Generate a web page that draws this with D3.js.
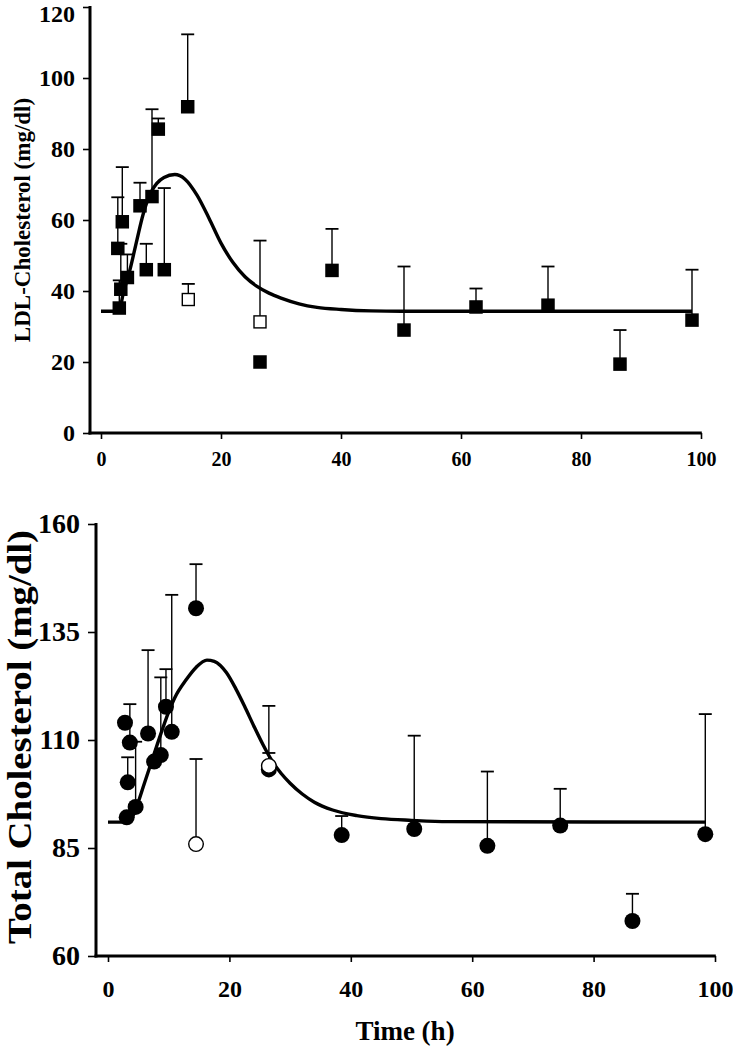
<!DOCTYPE html>
<html><head><meta charset="utf-8">
<script src="https://cdn.jsdelivr.net/npm/d3@7"></script>
<style>body{margin:0;background:#fff}svg{display:block}</style>
</head><body><svg id="c" width="733" height="1050"></svg>
<script>
// ---------- LDL panel data ----------
const ldlFilledT   = [3.05, 3.3, 4.4, 2.8, 3.55, 6.5, 8.5, 7.55, 10.55, 9.55, 14.45, 26.5, 38.5, 50.5, 62.5, 74.5, 86.5, 98.5];
const ldlFilledV   = [35.2, 40.5, 43.8, 52, 59.5, 64, 66.6, 46, 46, 85.6, 91.9, 20, 45.8, 29, 35.5, 36, 19.4, 31.8];
const ldlFilledErr = [43, 53.3, 50.3, 66.4, 74.9, 70.5, 91.2, 53.3, 69, 88.6, 112.3, null, 57.5, 46.9, 40.7, 46.9, 29, 46];
const ldlOpenT   = [14.55, 26.5];
const ldlOpenV   = [37.6, 31.3];
const ldlOpenErr = [42, 54.2];
const ldlCurveT = [0, 3, 3.7, 4.8, 6, 7, 8.4, 9.3, 10.5, 12.3, 14, 16, 18, 20, 22, 24, 26, 28, 30, 33, 36, 40, 45, 50, 98.5];
const ldlCurveV = [34.3, 34.3, 39.3, 45.8, 54.5, 61.5, 68, 70.3, 72, 72.8, 71.5, 67, 60.5, 53.5, 48, 44, 41.3, 39.4, 38, 36.4, 35.4, 34.8, 34.4, 34.3, 34.3];
const ldlYTicks = [0, 20, 40, 60, 80, 100, 120];
const xTicks = [0, 20, 40, 60, 80, 100];

// ---------- Total cholesterol panel data ----------
const tcFilledT   = [2.8, 3.6, 3.25, 3.08, 4.55, 6.6, 7.6, 8.7, 9.55, 10.5, 14.5, 26.5, 38.5, 50.45, 62.5, 74.5, 86.4, 98.4];
const tcFilledV   = [114, 109.4, 100.2, 92.1, 94.5, 111.5, 105, 106.5, 117.7, 111.9, 140.5, 103.2, 88, 89.4, 85.5, 90.2, 68.1, 88.2];
const tcFilledErr = [null, 118.3, 106, null, 109.6, 130.8, null, 124.5, 126.4, 143.6, 150.7, 107, 92.4, 111, 102.7, 98.7, 74.4, 116];
const tcOpenT   = [14.5, 26.5];
const tcOpenV   = [85.9, 104];
const tcOpenErr = [105.6, 117.9];
const tcCurveT = [0, 3.5, 4.5, 6, 8, 10, 11, 12.9, 14.5, 16.3, 17.5, 19.5, 21, 22.5, 24, 25.5, 27, 28.5, 30, 32, 34, 37, 41, 45, 50, 56, 98.5];
const tcCurveV = [91, 91, 93.8, 100, 108.5, 116.5, 119.8, 124, 126.8, 128.5, 128.2, 125.6, 122, 117.8, 113.3, 109, 105.2, 102.3, 100, 97.5, 95.6, 93.8, 92.5, 91.8, 91.4, 91.1, 91];
const tcYTicks = [60, 85, 110, 135, 160];

const svg = d3.select("#c");
const serif = "'Liberation Serif','Times New Roman',serif";

function panel(o) {
  const x = d3.scaleLinear().domain([0, 100]).range([o.x0, o.x1]);
  const y = d3.scaleLinear().domain(o.yDomain).range([o.y0, o.y1]);
  const g = svg.append("g");

  // axes
  const ya = g.append("g").attr("transform", `translate(${o.ax},0)`)
    .call(d3.axisLeft(y).tickValues(o.yTicks).tickSize(o.ytick).tickPadding(o.ypad).tickFormat(d3.format("d")));
  ya.select(".domain").attr("stroke-width", 3).attr("d", `M0,${o.y1 - 1}V${o.y0 + 1.5}`);
  ya.selectAll(".tick line").attr("stroke-width", 1.6);
  ya.selectAll("text").style("font-family", serif).style("font-weight", "bold").style("font-size", o.yfs + "px").attr("fill", "#000");
  if (o.topNudge) ya.selectAll(".tick").filter(d => d === o.yDomain[1]).select("text").attr("y", o.topNudge);

  const xa = g.append("g").attr("transform", `translate(0,${o.y0})`)
    .call(d3.axisBottom(x).tickValues(xTicks).tickSize(o.xtick).tickPadding(o.xpad).tickFormat(d3.format("d")));
  xa.select(".domain").attr("stroke-width", 3).attr("d", `M${o.ax - 1.5},0H${o.x1 + 0.8}`);
  xa.selectAll(".tick line").attr("stroke-width", 1.6);
  xa.selectAll("text").style("font-family", serif).style("font-weight", "bold").style("font-size", o.xfs + "px").attr("fill", "#000");

  // y title
  const tt = g.append("text").attr("transform", `translate(${o.titleX},${o.titleY}) rotate(-90)`)
    .attr("text-anchor", "middle").style("font-family", serif).style("font-weight", "bold")
    .style("font-size", o.tfs + "px").text(o.title);
  if (o.titleLen) tt.attr("textLength", o.titleLen).attr("lengthAdjust", "spacingAndGlyphs");

  const pts = (T, V, E, open) => T.map((t, i) => ({ t, v: V[i], e: E[i], open }));
  const all = pts(o.fT, o.fV, o.fE, false).concat(pts(o.oT, o.oV, o.oE, true));

  // error bars
  const eb = g.append("g").attr("stroke", "#000").attr("stroke-width", 1.4);
  all.filter(d => d.e != null).forEach(d => {
    eb.append("line").attr("x1", x(d.t)).attr("x2", x(d.t)).attr("y1", y(d.v)).attr("y2", y(d.e));
    eb.append("line").attr("x1", x(d.t) - 6.5).attr("x2", x(d.t) + 6.5).attr("y1", y(d.e)).attr("y2", y(d.e)).attr("stroke-width", 1.8);
  });

  // fitted curve
  g.append("path").datum(o.cT.map((t, i) => [t, o.cV[i]]))
    .attr("fill", "none").attr("stroke", "#000").attr("stroke-width", 3.4)
    .attr("d", d3.line().x(d => x(d[0])).y(d => y(d[1])).curve(d3.curveMonotoneX));

  // markers
  const m = g.append("g");
  all.forEach(d => {
    if (o.shape === "square") {
      const s = d.open ? 12 : 13.5;
      m.append("rect").attr("x", x(d.t) - s / 2).attr("y", y(d.v) - s / 2).attr("width", s).attr("height", s)
        .attr("fill", d.open ? "#fff" : "#000").attr("stroke", "#000").attr("stroke-width", d.open ? 1.4 : 0);
    } else {
      m.append("circle").attr("cx", x(d.t)).attr("cy", y(d.v)).attr("r", d.open ? 7.3 : 8)
        .attr("fill", d.open ? "#fff" : "#000").attr("stroke", "#000").attr("stroke-width", d.open ? 1.4 : 0);
    }
  });
  return { x, y };
}

panel({
  x0: 101, x1: 701, y0: 433, y1: 7, ax: 90, yDomain: [0, 120], yTicks: ldlYTicks,
  ytick: 7, ypad: 8, xtick: 6, xpad: 13, yfs: 24, xfs: 20, tfs: 23, titleX: 30, titleY: 220, topNudge: 7,
  title: "LDL-Cholesterol (mg/dl)", shape: "square",
  fT: ldlFilledT, fV: ldlFilledV, fE: ldlFilledErr, oT: ldlOpenT, oV: ldlOpenV, oE: ldlOpenErr,
  cT: ldlCurveT, cV: ldlCurveV
});

panel({
  x0: 108, x1: 715, y0: 956, y1: 524, ax: 96, yDomain: [60, 160], yTicks: tcYTicks,
  ytick: 8, ypad: 8, xtick: 6, xpad: 18, yfs: 28, xfs: 24, tfs: 34, titleX: 31, titleY: 737, titleLen: 414,
  title: "Total Cholesterol (mg/dl)", shape: "circle",
  fT: tcFilledT, fV: tcFilledV, fE: tcFilledErr, oT: tcOpenT, oV: tcOpenV, oE: tcOpenErr,
  cT: tcCurveT, cV: tcCurveV
});

svg.append("text").attr("x", 405).attr("y", 1040).attr("text-anchor", "middle")
  .style("font-family", serif).style("font-weight", "bold").style("font-size", "27px").text("Time (h)");
</script></body></html>
